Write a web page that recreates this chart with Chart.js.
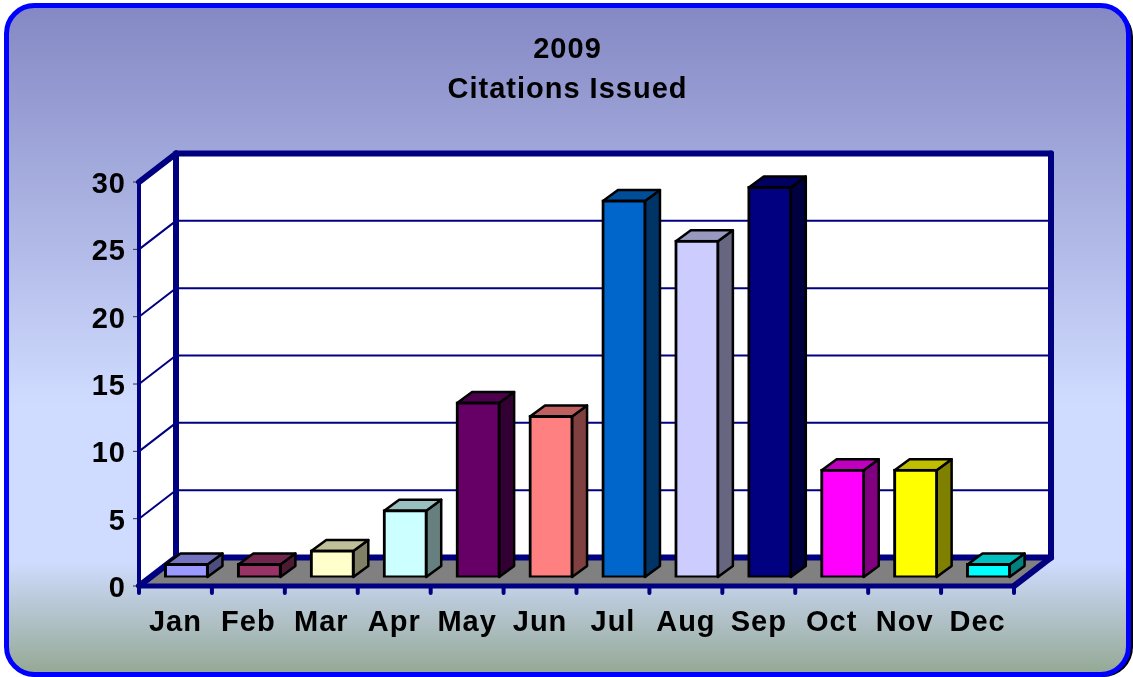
<!DOCTYPE html>
<html lang="en">
<head>
    <meta charset="UTF-8">
    <title>2009 Citations Issued</title>
    <script src="https://cdn.jsdelivr.net/npm/chart.js"></script>
    <style>
        html, body { margin: 0; padding: 0; background: #fff; }
        canvas { display: block; }
    </style>
</head>
<body>
<canvas id="myChart" width="1133" height="677"></canvas>
<script>
    const titleLines = ["2009", "Citations Issued"];
    const months = ["Jan", "Feb", "Mar", "Apr", "May", "Jun", "Jul", "Aug", "Sep", "Oct", "Nov", "Dec"];
    const citations = [1, 1, 2, 5, 13, 12, 28, 25, 29, 8, 8, 1];
    const barColors = ["#9999ff", "#993366", "#ffffcc", "#ccffff", "#660066", "#ff8080",
        "#0066cc", "#ccccff", "#000080", "#ff00ff", "#ffff00", "#00ffff"];

    const NAVY = "#000080";
    // the bars sit in the middle of the floor, so the front edge and back wall are offsets from them
    const FRONT = { x: -11, y: 8.5 };
    const BACK = { x: 26, y: -20 };
    const BAR_DEPTH = { x: 15, y: -11 };
    const BAR_BORDER = 3;
    const BAR_INFLATE = 1;

    function shade(hex, f) {
        const n = parseInt(hex.slice(1), 16);
        const r = Math.round((n >> 16 & 255) * f);
        const g = Math.round((n >> 8 & 255) * f);
        const b = Math.round((n & 255) * f);
        return `rgb(${r},${g},${b})`;
    }

    function poly(ctx, pts, fill, stroke, lw) {
        ctx.beginPath();
        pts.forEach((p, i) => i ? ctx.lineTo(p[0], p[1]) : ctx.moveTo(p[0], p[1]));
        ctx.closePath();
        if (fill) { ctx.fillStyle = fill; ctx.fill(); }
        if (stroke) { ctx.strokeStyle = stroke; ctx.lineWidth = lw; ctx.lineJoin = "round"; ctx.stroke(); }
    }

    function line(ctx, x1, y1, x2, y2, color, lw, cap) {
        ctx.beginPath();
        ctx.moveTo(x1, y1);
        ctx.lineTo(x2, y2);
        ctx.strokeStyle = color;
        ctx.lineWidth = lw;
        ctx.lineCap = cap || "butt";
        ctx.stroke();
    }

    const framePlugin = {
        id: "frame",
        // title centres on the whole picture, not on the plot
        afterLayout(chart) {
            chart.titleBlock.left = 2;
            chart.titleBlock.right = chart.width;
        },
        beforeDraw(chart) {
            const ctx = chart.ctx;
            ctx.save();
            ctx.beginPath();
            ctx.roundRect(8, 7, 1125, 670, 30);
            ctx.fillStyle = "#000";
            ctx.fill();

            const grad = ctx.createLinearGradient(0, 6, 0, 674);
            grad.addColorStop(0, "#8488c4");
            grad.addColorStop(0.6, "#d0dcff");
            grad.addColorStop(0.83, "#d0dcff");
            grad.addColorStop(1, "#94a894");
            ctx.beginPath();
            ctx.roundRect(6.5, 5.5, 1122, 669, 28);
            ctx.fillStyle = grad;
            ctx.fill();
            ctx.strokeStyle = "#0000ff";
            ctx.lineWidth = 5;
            ctx.stroke();
            ctx.restore();
            ctx.letterSpacing = "1px";
        }
    };

    const box3dPlugin = {
        id: "box3d",
        beforeDatasetsDraw(chart) {
            const ctx = chart.ctx;
            const ys = chart.scales.y;
            const { left, right } = chart.chartArea;
            const y0 = ys.getPixelForValue(0);
            const yTop = ys.getPixelForValue(30);

            const fl = left + FRONT.x, fr = right + FRONT.x;
            const bl = left + BACK.x, br = right + BACK.x;

            ctx.save();
            // walls and floor
            poly(ctx, [[bl, yTop + BACK.y], [br, yTop + BACK.y], [br, y0 + BACK.y], [bl, y0 + BACK.y]], "#fff");
            poly(ctx, [[fl, yTop + FRONT.y], [bl, yTop + BACK.y], [bl, y0 + BACK.y], [fl, y0 + FRONT.y]], "#fff");
            poly(ctx, [[fl, y0 + FRONT.y], [bl, y0 + BACK.y], [br, y0 + BACK.y], [fr, y0 + FRONT.y]], "#808080");

            // grid lines and value ticks
            ys.ticks.forEach(t => {
                const py = ys.getPixelForValue(t.value);
                line(ctx, fl - 6, py + FRONT.y, fl, py + FRONT.y, "#333", 1);
                if (t.value > 0 && t.value < 30) {
                    line(ctx, fl, py + FRONT.y, bl, py + BACK.y, NAVY, 2);
                    line(ctx, bl, py + BACK.y, br, py + BACK.y, NAVY, 2);
                }
            });

            // thick edges
            line(ctx, bl, yTop + BACK.y, br, yTop + BACK.y, NAVY, 6, "round");
            line(ctx, br, yTop + BACK.y, br, y0 + BACK.y, NAVY, 6, "round");
            line(ctx, bl, yTop + BACK.y, bl, y0 + BACK.y, NAVY, 6, "round");
            line(ctx, fl, yTop + FRONT.y, bl, yTop + BACK.y, NAVY, 6, "round");
            line(ctx, fl, yTop + FRONT.y, fl, y0 + FRONT.y, NAVY, 4, "round");
            line(ctx, fl, y0 + FRONT.y, bl, y0 + BACK.y, NAVY, 6, "round");
            line(ctx, bl, y0 + BACK.y, br, y0 + BACK.y, NAVY, 6, "round");
            line(ctx, fl, y0 + FRONT.y, fr, y0 + FRONT.y, NAVY, 5, "round");
            line(ctx, fr, y0 + FRONT.y, br, y0 + BACK.y, NAVY, 6, "round");

            // category ticks under the front edge
            const band = (right - left) / months.length;
            for (let i = 0; i <= months.length; i++) {
                const px = left + band * i + FRONT.x;
                line(ctx, px, y0 + FRONT.y, px, y0 + FRONT.y + 7, NAVY, 4, "round");
            }

            // side and top faces of each bar, corners on the middle of the bar's border
            const inset = BAR_BORDER / 2 - BAR_INFLATE;
            const d = BAR_DEPTH;
            chart.getDatasetMeta(0).data.forEach((bar, i) => {
                const l = bar.x - bar.width / 2 + inset;
                const r = bar.x + bar.width / 2 - inset;
                const t = bar.y + inset;
                const b = bar.base - inset;
                poly(ctx, [[r, t], [r + d.x, t + d.y], [r + d.x, b + d.y], [r, b]],
                    shade(barColors[i], 0.5), "#000", 2.5);
                poly(ctx, [[l, t], [l + d.x, t + d.y], [r + d.x, t + d.y], [r, t]],
                    shade(barColors[i], 0.75), "#000", 2.5);
            });
            ctx.restore();
        }
    };

    new Chart(document.getElementById("myChart"), {
        type: "bar",
        data: {
            labels: months,
            datasets: [{
                label: "Citations Issued",
                data: citations,
                backgroundColor: barColors,
                borderColor: "#000",
                borderWidth: BAR_BORDER,
                borderSkipped: false,
                inflateAmount: BAR_INFLATE,
                categoryPercentage: 1,
                barPercentage: 0.59
            }]
        },
        options: {
            responsive: false,
            animation: false,
            layout: { padding: { right: 108 } },
            plugins: {
                legend: { display: false },
                tooltip: { enabled: false },
                title: {
                    display: true,
                    text: titleLines,
                    color: "#000",
                    font: { family: "'Liberation Sans'", size: 29, weight: "bold", lineHeight: 1.38 },
                    padding: { top: 29.5, bottom: 64 }
                }
            },
            scales: {
                x: {
                    grid: { display: false, drawTicks: false },
                    border: { display: false },
                    afterFit(scale) { scale.height = 99.5; },
                    ticks: {
                        color: "#000",
                        font: { family: "'Liberation Sans'", size: 29, weight: "bold" },
                        padding: 28.5,
                        labelOffset: FRONT.x,
                        maxRotation: 0,
                        autoSkip: false
                    }
                },
                y: {
                    min: 0,
                    max: 30,
                    grid: { display: false, drawTicks: false },
                    border: { display: false },
                    afterFit(scale) { scale.width = 150; },
                    ticks: {
                        stepSize: 5,
                        color: "#000",
                        font: { family: "'Liberation Sans'", size: 29, weight: "bold" },
                        padding: 24,
                        labelOffset: FRONT.y + 3
                    }
                }
            }
        },
        plugins: [framePlugin, box3dPlugin]
    });
</script>
</body>
</html>
